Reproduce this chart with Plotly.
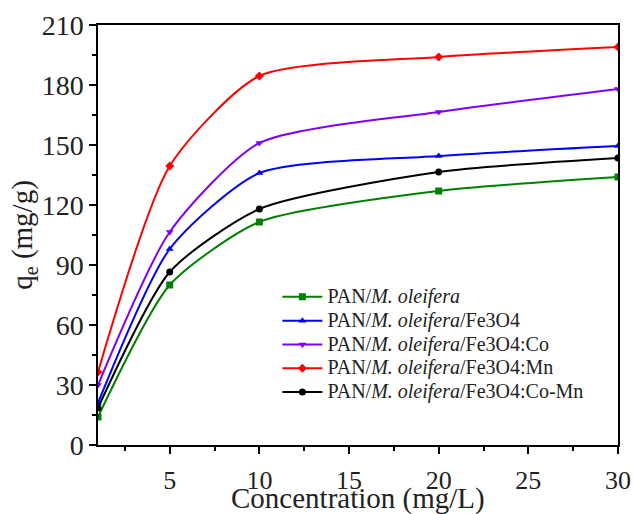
import plotly.graph_objects as go

conc = [1, 5, 10, 20, 30]
q_pan = [14, 80, 111.5, 127, 134]
q_fe = [21, 98, 136, 144.5, 149.5]
q_co = [30, 106.5, 151, 166.5, 178]
q_mn = [36.5, 139.5, 184.5, 194, 199]
q_comn = [18.5, 86.5, 118, 136.5, 143.5]

names = [
    "PAN/<i>M. oleifera</i>",
    "PAN/<i>M. oleifera</i>/Fe3O4",
    "PAN/<i>M. oleifera</i>/Fe3O4:Co",
    "PAN/<i>M. oleifera</i>/Fe3O4:Mn",
    "PAN/<i>M. oleifera</i>/Fe3O4:Co-Mn",
]
series = [q_pan, q_fe, q_co, q_mn, q_comn]
colors = ["#008000", "#0000ff", "#8000ff", "#ff0000", "#000000"]
symbols = ["square", "triangle-up", "triangle-down", "diamond", "circle"]

fig = go.Figure()
for n, ys, c, s in zip(names, series, colors, symbols):
    fig.add_trace(go.Scatter(
        x=conc, y=ys, name='<span style="font-size:20px">' + n + '</span>',
        mode="lines+markers",
        line=dict(color=c, width=2, shape="spline", smoothing=0.65),
        marker=dict(symbol=s, size=7, color=c),
    ))

font = "Times New Roman"
fig.update_layout(
    width=633, height=514,
    margin=dict(l=98, r=15, t=25, b=69, autoexpand=False),
    paper_bgcolor="white", plot_bgcolor="white",
    font=dict(family=font, color="#222222"),
    showlegend=True,
    legend=dict(x=0.345, y=0.393, xanchor="left", yanchor="top",
                bgcolor="rgba(0,0,0,0)", font=dict(size=16, family=font),
                tracegroupgap=0, itemwidth=40),
    xaxis=dict(
        range=[1, 30], tickvals=[5, 10, 15, 20, 25, 30], automargin=False,
        ticks="outside", ticklen=7, tickwidth=1.5, tickcolor="black",
        ticklabelstandoff=4,
        minor=dict(tickvals=[2.5, 7.5, 12.5, 17.5, 22.5, 27.5], ticks="outside", ticklen=4, tickwidth=1.5, tickcolor="black"),
        showline=True, linecolor="black", linewidth=1.5, mirror=True,
        showgrid=False, zeroline=False,
        tickfont=dict(size=26, family=font),
    ),
    yaxis=dict(
        range=[0, 210], tickvals=[0, 30, 60, 90, 120, 150, 180, 210], automargin=False,
        ticks="outside", ticklen=7, tickwidth=1.5, tickcolor="black",
        minor=dict(tickvals=[15, 45, 75, 105, 135, 165, 195], ticks="outside", ticklen=4, tickwidth=1.5, tickcolor="black"),
        showline=True, linecolor="black", linewidth=1.5, mirror=True,
        showgrid=False, zeroline=False,
        tickfont=dict(size=28, family=font),
        title=dict(text="q<sub>e</sub> (mg/g)", font=dict(size=29, family=font), standoff=0),
    ),
    annotations=[dict(
        text="Concentration (mg/L)", xref="paper", yref="paper",
        x=0.5, y=-0.128, xanchor="center", yanchor="middle", showarrow=False,
        font=dict(size=29, family=font, color="#222222"),
    )],
)

fig.write_html("out.html")
